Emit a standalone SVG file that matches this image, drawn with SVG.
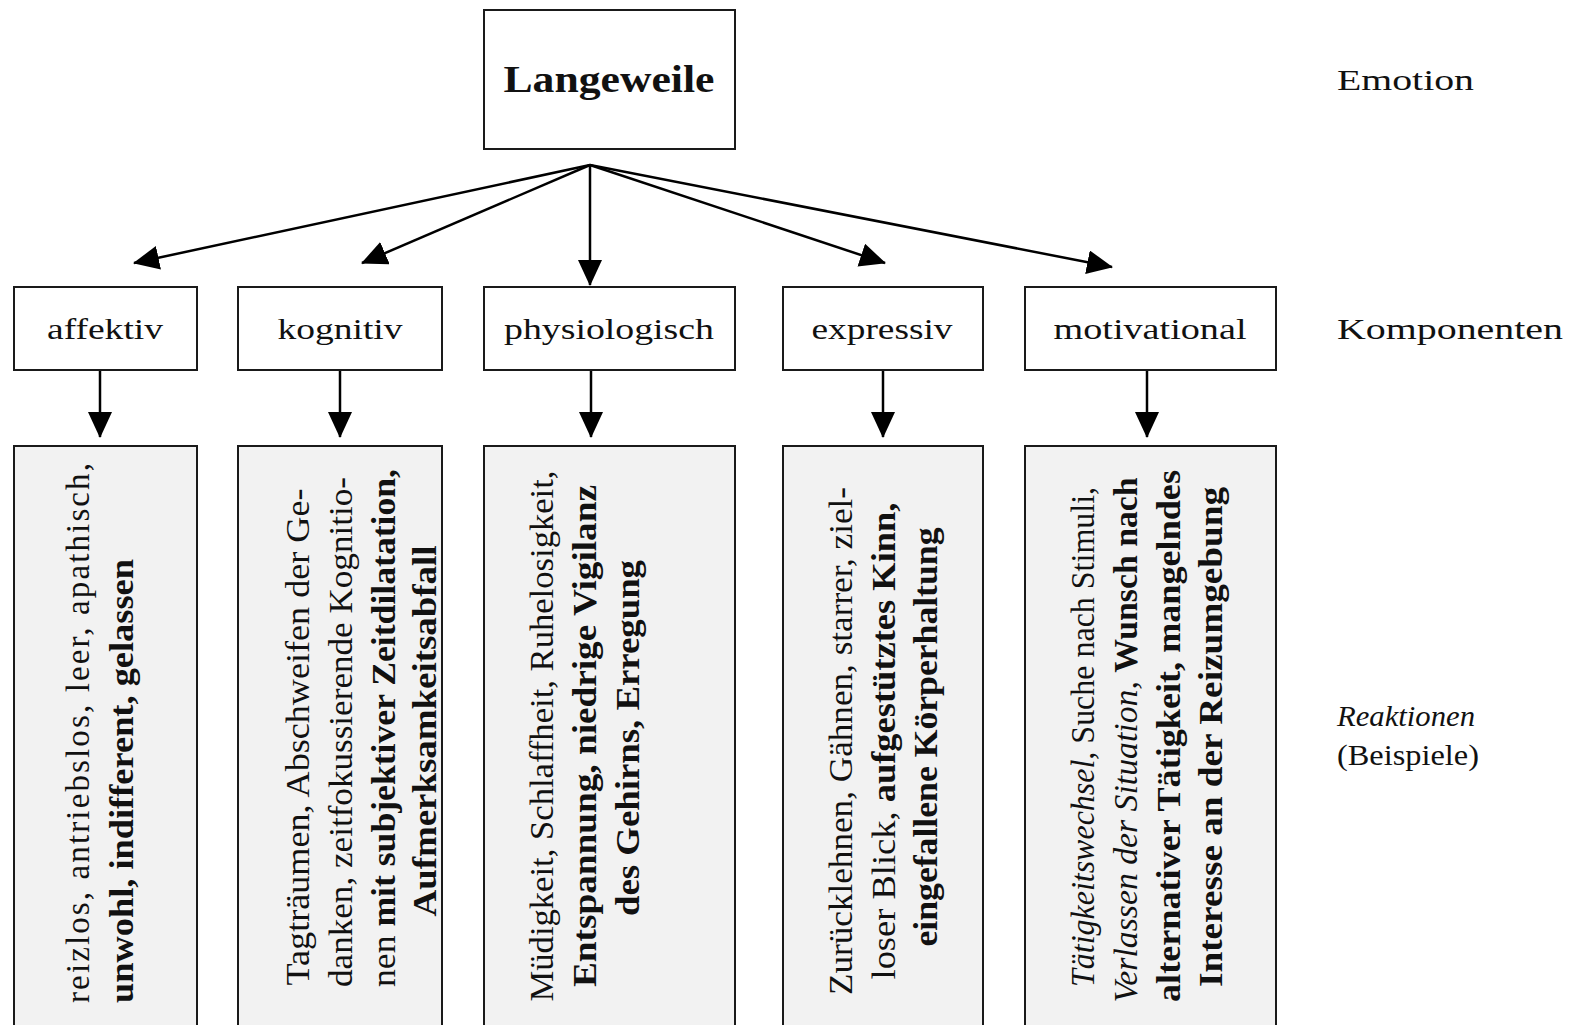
<svg xmlns="http://www.w3.org/2000/svg" width="1573" height="1025" viewBox="0 0 1573 1025">
  <style>
    .box { fill: #ffffff; stroke: #1a1a1a; stroke-width: 2; }
    .rbox { fill: #f2f2f2; stroke: #1a1a1a; stroke-width: 2; }
    .t { font-family: "Liberation Serif", "DejaVu Serif", serif; fill: #111111; }
    .lbl { font-size: 30px; text-anchor: middle; }
    .side { font-size: 30px; }
    .rx { font-size: 33px; }
    .b { font-weight: bold; }
    .i { font-style: italic; }
    .edge { stroke: #000000; stroke-width: 2.5; fill: none; marker-end: url(#arrow); }
  </style>
  <defs>
    <marker id="arrow" markerUnits="userSpaceOnUse" markerWidth="26" markerHeight="24" viewBox="0 0 26 24" refX="25" refY="12" orient="auto">
      <path d="M0,0 L26,12 L0,24 Z" fill="#000000"/>
    </marker>
  </defs>

  <rect width="1573" height="1025" fill="#ffffff"/>

  <!-- Connectors -->
  <g id="connectors">
    <line class="edge" x1="590" y1="165" x2="134" y2="263"/>
    <line class="edge" x1="590" y1="165" x2="362" y2="263"/>
    <line class="edge" x1="590" y1="165" x2="590" y2="285"/>
    <line class="edge" x1="590" y1="165" x2="885" y2="263"/>
    <line class="edge" x1="590" y1="165" x2="1112" y2="267"/>
    <line class="edge" x1="100" y1="371" x2="100" y2="437"/>
    <line class="edge" x1="340" y1="371" x2="340" y2="437"/>
    <line class="edge" x1="591" y1="371" x2="591" y2="437"/>
    <line class="edge" x1="883" y1="371" x2="883" y2="437"/>
    <line class="edge" x1="1147" y1="371" x2="1147" y2="437"/>
  </g>

  <!-- Emotion -->
  <g id="langeweile">
    <rect class="box" x="484" y="10" width="251" height="139"/>
    <text class="t b" x="609" y="92" font-size="38" text-anchor="middle" textLength="211" lengthAdjust="spacingAndGlyphs">Langeweile</text>
  </g>

  <!-- Components -->
  <g id="affektiv">
    <rect class="box" x="14" y="287" width="183" height="83"/>
    <text class="t lbl" x="105" y="339" textLength="116" lengthAdjust="spacingAndGlyphs">affektiv</text>
  </g>
  <g id="kognitiv">
    <rect class="box" x="238" y="287" width="204" height="83"/>
    <text class="t lbl" x="340" y="339" textLength="125" lengthAdjust="spacingAndGlyphs">kognitiv</text>
  </g>
  <g id="physiologisch">
    <rect class="box" x="484" y="287" width="251" height="83"/>
    <text class="t lbl" x="609" y="339" textLength="210" lengthAdjust="spacingAndGlyphs">physiologisch</text>
  </g>
  <g id="expressiv">
    <rect class="box" x="783" y="287" width="200" height="83"/>
    <text class="t lbl" x="882" y="339" textLength="141" lengthAdjust="spacingAndGlyphs">expressiv</text>
  </g>
  <g id="motivational">
    <rect class="box" x="1025" y="287" width="251" height="83"/>
    <text class="t lbl" x="1150" y="339" textLength="193" lengthAdjust="spacingAndGlyphs">motivational</text>
  </g>

  <!-- Reactions (rotated text, reading bottom to top) -->
  <g id="reaktion-affektiv">
    <rect class="rbox" x="14" y="446" width="183" height="600"/>
    <text class="t rx" transform="translate(89,1003) rotate(-90)" textLength="540" lengthAdjust="spacing">reizlos, antriebslos, leer, apathisch,</text>
    <text class="t rx b" transform="translate(133,1003) rotate(-90)" textLength="444" lengthAdjust="spacingAndGlyphs">unwohl, indifferent, gelassen</text>
  </g>
  <g id="reaktion-kognitiv">
    <rect class="rbox" x="238" y="446" width="204" height="600"/>
    <text class="t rx" text-anchor="middle" transform="translate(309,737) rotate(-90)" textLength="497" lengthAdjust="spacingAndGlyphs">Tagträumen, Abschweifen der Ge-</text>
    <text class="t rx" text-anchor="middle" transform="translate(352,732) rotate(-90)" textLength="510" lengthAdjust="spacingAndGlyphs">danken, zeitfokussierende Kognitio-</text>
    <text class="t rx" text-anchor="middle" transform="translate(395,728) rotate(-90)" textLength="518" lengthAdjust="spacingAndGlyphs">nen <tspan class="b">mit subjektiver Zeitdilatation,</tspan></text>
    <text class="t rx b" text-anchor="middle" transform="translate(436,731) rotate(-90)" textLength="371" lengthAdjust="spacingAndGlyphs">Aufmerksamkeitsabfall</text>
  </g>
  <g id="reaktion-physiologisch">
    <rect class="rbox" x="484" y="446" width="251" height="600"/>
    <text class="t rx" text-anchor="middle" transform="translate(553,736) rotate(-90)" textLength="531" lengthAdjust="spacingAndGlyphs">Müdigkeit, Schlaffheit, Ruhelosigkeit,</text>
    <text class="t rx b" text-anchor="middle" transform="translate(596,736) rotate(-90)" textLength="502" lengthAdjust="spacingAndGlyphs">Entspannung, niedrige Vigilanz</text>
    <text class="t rx b" text-anchor="middle" transform="translate(639,738) rotate(-90)" textLength="356" lengthAdjust="spacingAndGlyphs">des Gehirns, Erregung</text>
  </g>
  <g id="reaktion-expressiv">
    <rect class="rbox" x="783" y="446" width="200" height="600"/>
    <text class="t rx" text-anchor="middle" transform="translate(852,741) rotate(-90)" textLength="508" lengthAdjust="spacingAndGlyphs">Zurücklehnen, Gähnen, starrer, ziel-</text>
    <text class="t rx" text-anchor="middle" transform="translate(895,741) rotate(-90)" textLength="477" lengthAdjust="spacingAndGlyphs">loser Blick, <tspan class="b">aufgestütztes Kinn,</tspan></text>
    <text class="t rx b" text-anchor="middle" transform="translate(937,737) rotate(-90)" textLength="419" lengthAdjust="spacingAndGlyphs">eingefallene Körperhaltung</text>
  </g>
  <g id="reaktion-motivational">
    <rect class="rbox" x="1025" y="446" width="251" height="600"/>
    <text class="t rx" text-anchor="middle" transform="translate(1094,737) rotate(-90)" textLength="500" lengthAdjust="spacingAndGlyphs"><tspan class="i">Tätigkeitswechsel,</tspan> Suche nach Stimuli,</text>
    <text class="t rx" text-anchor="middle" transform="translate(1137,740) rotate(-90)" textLength="525" lengthAdjust="spacingAndGlyphs"><tspan class="i">Verlassen der Situation,</tspan> <tspan class="b">Wunsch nach</tspan></text>
    <text class="t rx b" text-anchor="middle" transform="translate(1180,736) rotate(-90)" textLength="532" lengthAdjust="spacingAndGlyphs">alternativer Tätigkeit, mangelndes</text>
    <text class="t rx b" text-anchor="middle" transform="translate(1222,737) rotate(-90)" textLength="500" lengthAdjust="spacingAndGlyphs">Interesse an der Reizumgebung</text>
  </g>

  <!-- Level labels -->
  <g id="ebenen">
    <text class="t side" x="1337" y="90" textLength="137" lengthAdjust="spacingAndGlyphs">Emotion</text>
    <text class="t side" x="1337" y="339" textLength="226" lengthAdjust="spacingAndGlyphs">Komponenten</text>
    <text class="t side i" x="1337" y="726" textLength="138" lengthAdjust="spacingAndGlyphs">Reaktionen</text>
    <text class="t side" x="1337" y="765" textLength="142" lengthAdjust="spacingAndGlyphs">(Beispiele)</text>
  </g>
</svg>
